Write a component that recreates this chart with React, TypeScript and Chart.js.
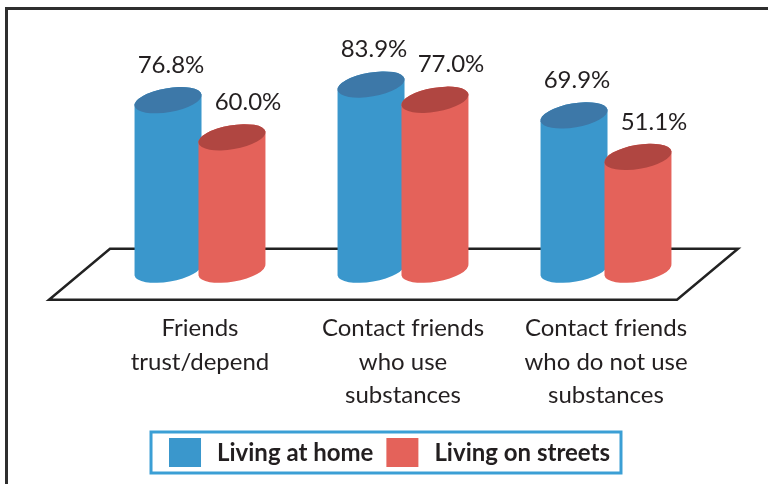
import React, { useEffect, useRef } from "react";
import { Chart, registerables } from "chart.js";

Chart.register(...registerables);

const categories: string[][] = [
  ["Friends", "trust/depend"],
  ["Contact friends", "who use", "substances"],
  ["Contact friends", "who do not use", "substances"],
];
const seriesNames = ["Living at home", "Living on streets"];
const homeValues = [76.8, 83.9, 69.9];
const streetValues = [60.0, 77.0, 51.1];

const bodyColors = ["#3A97CC", "#E4625A"];
const topColors = ["#3D78A8", "#B04641"];
const labelShift = [3, 16];
const legendBorder = "#3B9FD5";
const textColor = "#231F20";
const FONT = "Lato";

const TILT = -0.17;
const RY = 12;

function cylinder(ctx: CanvasRenderingContext2D, x: number, top: number, base: number, rx: number, body: string, cap: string) {
  const pt = (cx: number, cy: number, t: number) => [
    cx + rx * Math.cos(t) * Math.cos(TILT) - RY * Math.sin(t) * Math.sin(TILT),
    cy + rx * Math.cos(t) * Math.sin(TILT) + RY * Math.sin(t) * Math.cos(TILT),
  ];
  ctx.save();
  ctx.fillStyle = body;
  ctx.beginPath();
  const a = pt(x, top, Math.PI);
  const b = pt(x, base, Math.PI);
  ctx.moveTo(a[0], a[1]);
  ctx.lineTo(b[0], b[1]);
  ctx.ellipse(x, base, rx, RY, TILT, Math.PI, 0, true);
  const c = pt(x, top, 0);
  ctx.lineTo(c[0], c[1]);
  ctx.ellipse(x, top, rx, RY, TILT, 0, -Math.PI, true);
  ctx.closePath();
  ctx.fill();
  ctx.fillStyle = cap;
  ctx.beginPath();
  ctx.ellipse(x, top, rx, RY, TILT, 0, Math.PI * 2);
  ctx.fill();
  ctx.restore();
}

const framePlugin = {
  id: "frame",
  beforeDraw(chart: any) {
    const ctx = chart.ctx as CanvasRenderingContext2D;
    ctx.save();
    ctx.strokeStyle = "#2E2E2E";
    ctx.lineWidth = 3;
    ctx.beginPath();
    ctx.moveTo(6.5, chart.height);
    ctx.lineTo(6.5, 8.5);
    ctx.lineTo(chart.width, 8.5);
    ctx.stroke();
    ctx.restore();
  },
};

const cylinderPlugin = {
  id: "cylinders",
  beforeDatasetsDraw(chart: any) {
    const ctx = chart.ctx as CanvasRenderingContext2D;
    const area = chart.chartArea;
    const y0 = chart.scales.y.getPixelForValue(0);
    ctx.save();
    ctx.strokeStyle = "#222";
    ctx.lineWidth = 2.5;
    ctx.lineJoin = "miter";
    ctx.beginPath();
    ctx.moveTo(area.left + 11.5, y0 - 21);
    ctx.lineTo(area.right + 30.5, y0 - 21);
    ctx.lineTo(area.right - 30.5, y0 + 30);
    ctx.lineTo(area.left - 49.5, y0 + 30);
    ctx.closePath();
    ctx.stroke();
    ctx.restore();
  },
  beforeDatasetDraw() {
    return false;
  },
  afterDatasetsDraw(chart: any) {
    const ctx = chart.ctx as CanvasRenderingContext2D;
    const n = chart.data.labels.length;
    for (let i = 0; i < n; i++) {
      chart.data.datasets.forEach((ds: any, d: number) => {
        const el = chart.getDatasetMeta(d).data[i];
        const p = el.getProps(["x", "y", "base", "width"], true);
        cylinder(ctx, p.x, p.y, p.base, (p.width / 2) * 1.0625, bodyColors[d], topColors[d]);
      });
    }
    ctx.save();
    ctx.fillStyle = textColor;
    ctx.font = `24px ${FONT}`;
    ctx.textAlign = "center";
    ctx.textBaseline = "middle";
    chart.data.datasets.forEach((ds: any, d: number) => {
      chart.getDatasetMeta(d).data.forEach((el: any, i: number) => {
        const p = el.getProps(["x", "y"], true);
        ctx.fillText(ds.data[i].toFixed(1) + "%", p.x + labelShift[d], p.y - 35);
      });
    });
    ctx.restore();
  },
};

const legendPlugin = {
  id: "boxLegend",
  afterDraw(chart: any) {
    const ctx = chart.ctx as CanvasRenderingContext2D;
    ctx.save();
    ctx.font = `bold 24px ${FONT}`;
    const sq = 32;
    const gapText = 16;
    const gapItem = 13;
    const padL = 18;
    const padR = 11;
    const names = chart.data.datasets.map((d: any) => d.label);
    const widths = names.map((s: string) => ctx.measureText(s).width);
    let total = padL + padR;
    widths.forEach((w: number, i: number) => {
      total += sq + gapText + w + (i < widths.length - 1 ? gapItem : 0);
    });
    const boxTop = 432;
    const boxH = 41;
    const left = chart.width / 2 + 2 - total / 2;
    ctx.strokeStyle = legendBorder;
    ctx.lineWidth = 3;
    ctx.strokeRect(left, boxTop, total, boxH);
    let x = left + padL;
    const cy = boxTop + boxH / 2;
    names.forEach((s: string, i: number) => {
      ctx.fillStyle = bodyColors[i];
      ctx.fillRect(x, cy - 14.5, sq, 29);
      x += sq + gapText;
      ctx.fillStyle = textColor;
      ctx.textAlign = "left";
      ctx.textBaseline = "middle";
      ctx.fillText(s, x, cy + 1);
      x += widths[i] + gapItem;
    });
    ctx.restore();
  },
};

export default function App() {
  const ref = useRef<HTMLCanvasElement | null>(null);
  useEffect(() => {
    if (!ref.current) return;
    const chart = new Chart(ref.current, {
      type: "bar",
      data: {
        labels: categories,
        datasets: [
          { label: seriesNames[0], data: homeValues, backgroundColor: bodyColors[0] },
          { label: seriesNames[1], data: streetValues, backgroundColor: bodyColors[1] },
        ],
      },
      options: {
        responsive: false,
        animation: false,
        devicePixelRatio: 1,
        layout: { padding: { left: 98.5, right: 60.5, top: 49, bottom: 29.5 } },
        datasets: { bar: { categoryPercentage: 0.63, barPercentage: 1 } },
        plugins: { legend: { display: false }, tooltip: { enabled: false } },
        scales: {
          x: {
            grid: { display: false, drawTicks: false },
            border: { display: false },
            ticks: {
              color: textColor,
              font: { family: FONT, size: 24, lineHeight: 1.4 },
              padding: 42,
              maxRotation: 0,
              autoSkip: false,
            },
          },
          y: { display: false, min: 0, max: 100 },
        },
      },
      plugins: [framePlugin, cylinderPlugin, legendPlugin],
    });
    return () => chart.destroy();
  }, []);
  return (
    <div style={{ position: "fixed", left: 0, top: 0, width: 768, height: 484, background: "#fff" }}>
      <canvas ref={ref} width={768} height={484} />
    </div>
  );
}
